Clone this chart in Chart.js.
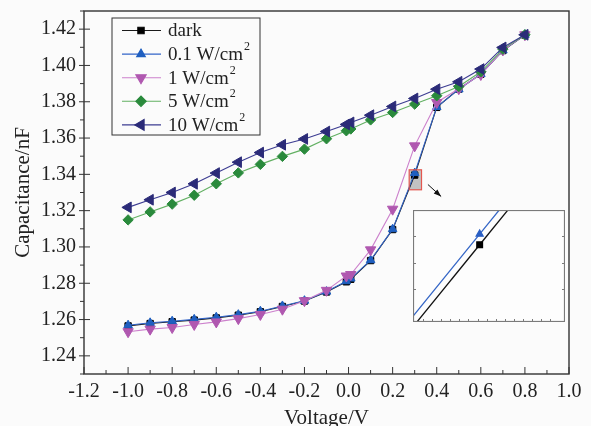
<!DOCTYPE html>
<html>
<head>
<meta charset="utf-8">
<script src="https://cdn.jsdelivr.net/npm/chart.js@4.4.0/dist/chart.umd.min.js"></script>
<style>
  body { margin: 0; background: #fbfbfb; }
  #wrap { position: relative; width: 591px; height: 426px; }
  #inset { position: absolute; left: 413px; top: 210px; width: 152px; height: 112px; }
</style>
</head>
<body>
<div id="wrap">
  <canvas id="grafico"></canvas>
  <div id="inset"><canvas id="graficoInset"></canvas></div>
</div>
<script>
// tensão (V) - dois pontos perto de 0
const voltage = [-1.0, -0.9, -0.8, -0.7, -0.6, -0.5, -0.4, -0.3, -0.2, -0.1, -0.01, 0.01, 0.1, 0.2, 0.3, 0.4, 0.5, 0.6, 0.7, 0.8];

// capacitância (nF)
const cDark = [1.2565, 1.2578, 1.2588, 1.2597, 1.2609, 1.2624, 1.2643, 1.2672, 1.2702, 1.2752, 1.2808, 1.2822, 1.2925, 1.3096, 1.3396, 1.3769, 1.3870, 1.3952, 1.4082, 1.4168];
const c01 = [1.2569, 1.2582, 1.2591, 1.2601, 1.2613, 1.2627, 1.2646, 1.2675, 1.2704, 1.2754, 1.2811, 1.2826, 1.2927, 1.3098, 1.3407, 1.3771, 1.3868, 1.3953, 1.4083, 1.4169];
const c1 = [1.2533, 1.2547, 1.2556, 1.2573, 1.2587, 1.2605, 1.2628, 1.2657, 1.2704, 1.2761, 1.2840, 1.2848, 1.2984, 1.3208, 1.3557, 1.3796, 1.3872, 1.3950, 1.4085, 1.4169];
const c5 = [1.3149, 1.3193, 1.3236, 1.3285, 1.3348, 1.3408, 1.3455, 1.3499, 1.3539, 1.3596, 1.3640, 1.3650, 1.3700, 1.3741, 1.3787, 1.3833, 1.3884, 1.3965, 1.4090, 1.4169];
const c10 = [1.3218, 1.3260, 1.3300, 1.3348, 1.3407, 1.3467, 1.3520, 1.3563, 1.3595, 1.3636, 1.3675, 1.3686, 1.3726, 1.3774, 1.3818, 1.3869, 1.3910, 1.3980, 1.4099, 1.4169];

const seriesNames = ['dark', '0.1 W/cm²', '1 W/cm²', '5 W/cm²', '10 W/cm²'];

const xTicks = [-1.2, -1.0, -0.8, -0.6, -0.4, -0.2, 0.0, 0.2, 0.4, 0.6, 0.8, 1.0];
const yTicks = [1.24, 1.26, 1.28, 1.30, 1.32, 1.34, 1.36, 1.38, 1.40, 1.42];

// região ampliada [x0, x1, y0, y1] e seta
const zoomBox = [0.275, 0.331, 1.3315, 1.3425];
const arrowFrom = [0.36, 1.3344];
const arrowTo = [0.42, 1.3278];

// inset
const insetX = [0.275, 0.332];
const insetY = [1.3316, 1.3432];
const insetYTicks = [1.3350, 1.3377, 1.3405];
const insetBlueX = [0.27, 0.30, 0.31];
const insetBlueY = [1.3305, 1.3407, 1.3441];
const insetBlackX = [0.27, 0.30, 0.315];
const insetBlackY = [1.3294, 1.3396, 1.3447];

const fonte = '"Liberation Serif", "Times New Roman", serif';

function pontos(xs, ys) {
    return xs.map((v, i) => ({ x: v, y: ys[i] }));
}

const estilos = [
    { cor: '#000000', linha: '#1a1a1a', ponto: 'rect', rot: 0, r: 4.5 },
    { cor: '#1f5fc0', linha: '#3264c8', ponto: 'triangle', rot: 0, r: 5 },
    { cor: '#b058b0', linha: '#cc80cc', ponto: 'triangle', rot: 180, r: 6 },
    { cor: '#2a8a3c', linha: '#62b062', ponto: 'rectRot', rot: 0, r: 5.2 },
    { cor: '#2b2b78', linha: '#3c3c92', ponto: 'triangle', rot: -90, r: 6.2 }
];
const valores = [cDark, c01, c1, c5, c10];

const datasets = valores.map((serie, i) => ({
    label: seriesNames[i],
    data: pontos(voltage, serie),
    borderColor: estilos[i].linha,
    backgroundColor: estilos[i].cor,
    pointBorderColor: estilos[i].cor,
    borderWidth: 1.1,
    pointStyle: estilos[i].ponto,
    pointRotation: estilos[i].rot,
    pointRadius: estilos[i].r,
    pointBorderWidth: 1,
    tension: 0,
    order: 5 - i
}));

const eixosPlugin = {
    id: 'eixos',
    beforeDatasetsDraw(chart) {
        const { ctx, scales: { x, y } } = chart;
        const x0 = x.getPixelForValue(zoomBox[0]), x1 = x.getPixelForValue(zoomBox[1]);
        const y0 = y.getPixelForValue(zoomBox[3]), y1 = y.getPixelForValue(zoomBox[2]);
        ctx.save();
        ctx.fillStyle = '#c2c2c2';
        ctx.fillRect(x0, y0, x1 - x0, y1 - y0);
        ctx.restore();
    },
    afterDatasetsDraw(chart) {
        const { ctx, chartArea: a, scales: { x, y } } = chart;
        ctx.save();

        // caixa vermelha por cima
        const x0 = x.getPixelForValue(zoomBox[0]), x1 = x.getPixelForValue(zoomBox[1]);
        const y0 = y.getPixelForValue(zoomBox[3]), y1 = y.getPixelForValue(zoomBox[2]);
        ctx.strokeStyle = '#e4564e';
        ctx.lineWidth = 1.2;
        ctx.strokeRect(x0, y0, x1 - x0, y1 - y0);

        // moldura
        ctx.strokeStyle = '#333';
        ctx.lineWidth = 1.4;
        ctx.strokeRect(a.left, a.top, a.right - a.left, a.bottom - a.top);

        // ticks x (para dentro)
        ctx.lineWidth = 1;
        ctx.beginPath();
        xTicks.forEach((v, i) => {
            const px = x.getPixelForValue(v);
            ctx.moveTo(px, a.bottom); ctx.lineTo(px, a.bottom - 7);
            if (i < xTicks.length - 1) {
                const pm = x.getPixelForValue((v + xTicks[i + 1]) / 2);
                ctx.moveTo(pm, a.bottom); ctx.lineTo(pm, a.bottom - 4);
            }
        });
        // ticks y
        yTicks.forEach((v, i) => {
            const py = y.getPixelForValue(v);
            ctx.moveTo(a.left - 5, py); ctx.lineTo(a.left + 6, py);
            const pm = y.getPixelForValue(v - 0.01);
            ctx.moveTo(a.left - 4, pm); ctx.lineTo(a.left, pm);
        });
        const pTop = y.getPixelForValue(yTicks[yTicks.length - 1] + 0.01);
        ctx.moveTo(a.left - 4, pTop); ctx.lineTo(a.left, pTop);
        ctx.stroke();

        // seta
        const ax0 = x.getPixelForValue(arrowFrom[0]), ay0 = y.getPixelForValue(arrowFrom[1]);
        const ax1 = x.getPixelForValue(arrowTo[0]), ay1 = y.getPixelForValue(arrowTo[1]);
        const ang = Math.atan2(ay1 - ay0, ax1 - ax0);
        ctx.strokeStyle = '#111';
        ctx.fillStyle = '#111';
        ctx.beginPath();
        ctx.moveTo(ax0, ay0); ctx.lineTo(ax1, ay1);
        ctx.stroke();
        ctx.beginPath();
        ctx.moveTo(ax1, ay1);
        ctx.lineTo(ax1 - 8 * Math.cos(ang - 0.35), ay1 - 8 * Math.sin(ang - 0.35));
        ctx.lineTo(ax1 - 8 * Math.cos(ang + 0.35), ay1 - 8 * Math.sin(ang + 0.35));
        ctx.closePath();
        ctx.fill();

        // legenda
        const lx = 112, ly = 18, lw = 148, lh = 117;
        ctx.fillStyle = '#fbfbfb';
        ctx.fillRect(lx, ly, lw, lh);
        ctx.strokeStyle = '#333';
        ctx.lineWidth = 1;
        ctx.strokeRect(lx, ly, lw, lh);
        ctx.textBaseline = 'middle';
        ctx.textAlign = 'left';
        chart.data.datasets.forEach((ds, i) => {
            const ry = 30.5 + i * 23.6;
            ctx.strokeStyle = ds.borderColor;
            ctx.lineWidth = 1.1;
            ctx.beginPath();
            ctx.moveTo(122, ry); ctx.lineTo(161, ry);
            ctx.stroke();
            ctx.fillStyle = ds.backgroundColor;
            ctx.strokeStyle = ds.pointBorderColor;
            Chart.helpers.drawPoint(ctx, {
                pointStyle: ds.pointStyle, rotation: ds.pointRotation,
                radius: ds.pointRadius, borderWidth: 1
            }, 141, ry);
            const partes = ds.label.split('²');
            ctx.fillStyle = '#222';
            ctx.font = '19px ' + fonte;
            ctx.fillText(partes[0], 168, ry + 1);
            if (partes.length > 1) {
                const w = ctx.measureText(partes[0]).width;
                ctx.font = '12px ' + fonte;
                ctx.fillText('2', 168 + w + 1, ry - 7);
            }
        });
        ctx.restore();
    }
};

function semPadding(s) {
    s.paddingTop = 0; s.paddingBottom = 0; s.paddingLeft = 0; s.paddingRight = 0;
}

new Chart(document.getElementById('grafico').getContext('2d'), {
    type: 'line',
    data: { datasets: datasets },
    options: {
        responsive: true,
        maintainAspectRatio: false,
        animation: false,
        layout: { padding: { top: 11, right: 22, left: 0, bottom: 0 } },
        plugins: { legend: { display: false }, tooltip: { enabled: false } },
        scales: {
            x: {
                type: 'linear', min: -1.2, max: 1.0,
                afterBuildTicks: s => { s.ticks = xTicks.map(v => ({ value: v })); },
                afterFit: s => { s.height = 52; semPadding(s); },
                grid: { display: false, drawTicks: false },
                border: { display: false },
                ticks: {
                    padding: 6, color: '#222', maxRotation: 0, autoSkip: false,
                    font: { family: fonte, size: 20 },
                    callback: v => v.toFixed(1)
                },
                title: {
                    display: true, text: 'Voltage/V', color: '#222',
                    font: { family: fonte, size: 21, lineHeight: 1 },
                    padding: { top: 0, bottom: -3 }
                }
            },
            y: {
                type: 'linear', min: 1.23, max: 1.43,
                afterBuildTicks: s => { s.ticks = yTicks.map(v => ({ value: v })); },
                afterFit: s => { s.width = 84; semPadding(s); },
                grid: { display: false, drawTicks: false },
                border: { display: false },
                ticks: {
                    padding: 8, color: '#222', autoSkip: false,
                    font: { family: fonte, size: 20 },
                    callback: v => v.toFixed(2)
                },
                title: {
                    display: true, text: 'Capacitance/nF', color: '#222',
                    font: { family: fonte, size: 21, lineHeight: 1.2 },
                    padding: { top: 11, bottom: 0 }
                }
            }
        }
    },
    plugins: [eixosPlugin]
});

// inset ampliado
const insetPlugin = {
    id: 'insetMoldura',
    beforeDraw(chart) {
        const { ctx, width, height } = chart;
        ctx.save();
        ctx.fillStyle = '#fdfdfd';
        ctx.fillRect(0, 0, width, height);
        ctx.restore();
    },
    afterDraw(chart) {
        const { ctx, chartArea: a, scales: { x, y } } = chart;
        ctx.save();
        ctx.strokeStyle = '#7a7a7a';
        ctx.lineWidth = 1;
        ctx.beginPath();
        x.ticks.forEach(t => {
            const px = Math.round(x.getPixelForValue(t.value)) + 0.5;
            ctx.moveTo(px, a.bottom); ctx.lineTo(px, a.bottom - 3);
        });
        insetYTicks.forEach(v => {
            const py = Math.round(y.getPixelForValue(v)) + 0.5;
            ctx.moveTo(a.left, py); ctx.lineTo(a.left + 3, py);
            ctx.moveTo(a.right, py); ctx.lineTo(a.right - 3, py);
        });
        ctx.stroke();
        ctx.lineWidth = 1.2;
        ctx.strokeRect(a.left + 0.5, a.top + 0.5, a.right - a.left - 1, a.bottom - a.top - 1);
        ctx.restore();
    }
};

new Chart(document.getElementById('graficoInset').getContext('2d'), {
    type: 'line',
    data: {
        datasets: [{
            data: pontos(insetBlueX, insetBlueY),
            borderColor: '#3566c6', backgroundColor: '#2a5fc4', pointBorderColor: '#2a5fc4',
            borderWidth: 1.3, pointStyle: 'triangle', pointRadius: [0, 4, 0], tension: 0
        }, {
            data: pontos(insetBlackX, insetBlackY),
            borderColor: '#111', backgroundColor: '#000', pointBorderColor: '#000',
            borderWidth: 1.3, pointStyle: 'rect', pointRadius: [0, 4, 0], tension: 0
        }]
    },
    options: {
        responsive: true,
        maintainAspectRatio: false,
        animation: false,
        layout: { padding: 0 },
        plugins: { legend: { display: false }, tooltip: { enabled: false } },
        scales: {
            x: {
                type: 'linear', min: insetX[0], max: insetX[1],
                afterFit: s => { s.height = 0; },
                ticks: { display: false, stepSize: 0.0034 },
                grid: { display: false, drawTicks: false }, border: { display: false }
            },
            y: {
                type: 'linear', min: insetY[0], max: insetY[1],
                afterFit: s => { s.width = 0; },
                ticks: { display: false },
                grid: { display: false, drawTicks: false }, border: { display: false }
            }
        }
    },
    plugins: [insetPlugin]
});
</script>
</body>
</html>
